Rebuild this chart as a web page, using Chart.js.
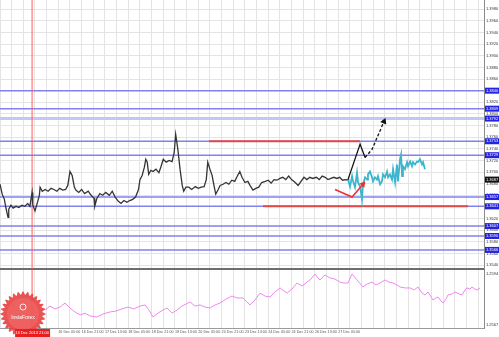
<!DOCTYPE html>
<html lang="en">
<head>
<meta charset="UTF-8">
<title>EUR/USD H1</title>
<script src="https://cdn.jsdelivr.net/npm/chart.js@4.4.0/dist/chart.umd.min.js"></script>
<style>
  body { margin: 0; background: #fff; }
  .wrap { position: relative; width: 499px; height: 337px; overflow: hidden; background: #fff; }
  #priceChart { position: absolute; left: 0; top: 0; }
  #oscChart { position: absolute; left: 0; top: 270px; }
</style>
</head>
<body>
<div class="wrap">
  <canvas id="priceChart" width="499" height="270"></canvas>
  <canvas id="oscChart" width="499" height="67"></canvas>
</div>
<script>
// x is in H1 bars, y in price
const pricePoints = [[0,1.3679],[1.5,1.3662],[3,1.3653],[4,1.3639],[5.5,1.3622],[6,1.3636],[7.5,1.3643],[9,1.3638],[11,1.3641],[13,1.3639],[15,1.3643],[17,1.3641],[19,1.3646],[20.5,1.3641],[22,1.3665],[22.5,1.3643],[24,1.3633],[25.5,1.3646],[27,1.3660],[27.5,1.3674],[29,1.3667],[31,1.3670],[33,1.3667],[35,1.3672],[37,1.3670],[39,1.3667],[41,1.3672],[43,1.3669],[45,1.3670],[46.5,1.3677],[48,1.3701],[49.5,1.3694],[51,1.3674],[52,1.3669],[54,1.3665],[56,1.3670],[58,1.3663],[60.5,1.3667],[62.5,1.3660],[64.5,1.3655],[65,1.3641],[66.5,1.3655],[68.5,1.3663],[70.5,1.3660],[72.5,1.3665],[75,1.3660],[77,1.3667],[79,1.3657],[81,1.3650],[83,1.3646],[85,1.3651],[87,1.3648],[89,1.3651],[91,1.3653],[93,1.3657],[95,1.3670],[96,1.3687],[97.5,1.3694],[99,1.3708],[100,1.3722],[101,1.3717],[102,1.3696],[103.5,1.3703],[105,1.3701],[107,1.3705],[109,1.3699],[110.5,1.3710],[112,1.3722],[114,1.3717],[116,1.3720],[118,1.3718],[119.5,1.3734],[120.5,1.3765],[122,1.3739],[123.5,1.3705],[125,1.3677],[126,1.3667],[127.5,1.3674],[129.5,1.3674],[131.5,1.3670],[134,1.3675],[136,1.3672],[138,1.3674],[140,1.3675],[141.5,1.3687],[142.5,1.3717],[144,1.3705],[145.5,1.3694],[147,1.3674],[148,1.3662],[149.5,1.3669],[151,1.3677],[153,1.3679],[155,1.3682],[157,1.3679],[159,1.3686],[161,1.3684],[163,1.3694],[164.5,1.3701],[166,1.3691],[168,1.3682],[170,1.3684],[171.5,1.3677],[173.5,1.3669],[175.5,1.3672],[177.5,1.3674],[179.5,1.3682],[182,1.3684],[184,1.3686],[186,1.3681],[188,1.3687],[190,1.3686],[192,1.3689],[194,1.3691],[196,1.3687],[198,1.3693],[200,1.3687],[202.5,1.3682],[204.5,1.3677],[206.5,1.3684],[208.5,1.3691],[210.5,1.3687],[212.5,1.3691],[214.5,1.3689],[217,1.3691],[219,1.3687],[221,1.3693],[223,1.3691],[225,1.3687],[227,1.3689],[229,1.3691],[231,1.3689],[233,1.3691],[235,1.3686],[237,1.3687],[239.5,1.3686]];

const forecastPoints = [[238.7,1.3687],[240.1,1.3675],[241.5,1.3693],[242.2,1.3684],[243.5,1.3674],[244.9,1.3699],[245.6,1.3682],[247,1.3675],[248.3,1.3653],[249,1.3679],[250.4,1.3691],[251.8,1.3687],[252.4,1.3696],[253.8,1.3701],[255.2,1.3691],[255.9,1.3684],[257.2,1.3691],[258.6,1.3687],[259.3,1.3693],[260.7,1.3679],[262,1.3684],[262.7,1.3696],[264.1,1.3691],[265.5,1.3701],[266.2,1.3691],[267.5,1.3696],[268.9,1.3687],[269.6,1.3705],[271,1.3682],[272.3,1.3713],[273,1.3684],[274.4,1.3722],[275.1,1.3730],[275.8,1.3693],[276.4,1.3710],[277.8,1.3705],[279.2,1.3717],[279.9,1.3710],[281.3,1.3718],[282.6,1.3710],[283.3,1.3717],[284.7,1.3713],[286,1.3718],[286.7,1.3717],[288.1,1.3722],[289.5,1.3713],[290.2,1.3717],[291.5,1.3705]];

const upArrowSolid = [[238.7,1.3687],[247,1.3748],[250.4,1.3725]];
const upArrowDashed = [[250.4,1.3725],[255.2,1.3739],[263.4,1.3787]];
const downArrow = [[229.8,1.3670],[241.5,1.3657],[249,1.3679]];

const levelPrices = [1.3840, 1.3809, 1.3792, 1.3753, 1.3729, 1.3657, 1.3641, 1.3607, 1.3590, 1.3566];
const resistanceSeg = [[143.3,1.3753],[246.9,1.3753]];
const supportSeg = [[180.4,1.3641],[321,1.3641]];
const lastPrice = 1.3687;
const cursorBar = 22;

const oscPoints = [[28,1.25765],[30.9,1.25749],[34.3,1.25770],[37.7,1.25755],[41.2,1.25765],[44.6,1.25786],[48,1.25760],[51.4,1.25739],[54.9,1.25723],[58.3,1.25733],[61.7,1.25718],[66.5,1.25712],[70.7,1.25728],[75.5,1.25739],[79.6,1.25744],[83.7,1.25755],[87.8,1.25765],[91.9,1.25755],[96,1.25770],[99.5,1.25776],[102.2,1.25749],[105,1.25712],[108.4,1.25733],[111.8,1.25749],[114.6,1.25760],[118,1.25733],[121.4,1.25749],[124.8,1.25770],[127.6,1.25781],[130.3,1.25792],[133.8,1.25770],[137.2,1.25776],[140.6,1.25765],[144.1,1.25760],[147.5,1.25776],[150.9,1.25786],[155,1.25807],[159.1,1.25823],[162.6,1.25813],[166.7,1.25813],[169.4,1.25792],[171.5,1.25776],[174.9,1.25802],[178.4,1.25839],[181.8,1.25823],[185.2,1.25818],[188.6,1.25845],[192.1,1.25866],[194.8,1.25850],[196.9,1.25839],[200.3,1.25860],[203.7,1.25892],[207.2,1.25876],[210.6,1.25897],[213.3,1.25913],[216.1,1.25940],[218.1,1.25919],[219.5,1.25908],[222.9,1.25935],[226.4,1.25919],[229.8,1.25913],[233.2,1.25897],[236,1.25892],[238.7,1.25892],[241.5,1.25940],[244.9,1.25908],[249,1.25871],[251.8,1.25887],[255.2,1.25897],[257.9,1.25882],[260.7,1.25892],[264.1,1.25908],[266.9,1.25897],[269.6,1.25892],[272.3,1.25882],[274.4,1.25871],[277.8,1.25866],[281.3,1.25866],[284,1.25855],[286.7,1.25871],[289.5,1.25839],[291.5,1.25829],[293.6,1.25845],[295.7,1.25818],[297,1.25802],[299.1,1.25813],[300.5,1.25818],[302.5,1.25797],[303.9,1.25786],[305.9,1.25807],[307.3,1.25829],[310.1,1.25834],[312.1,1.25845],[314.9,1.25834],[316.9,1.25829],[319,1.25855],[320.3,1.25866],[322.4,1.25860],[323.8,1.25871],[325.8,1.25860],[327.2,1.25855],[329.3,1.25866]];

const priceTicks = [1.3980,1.3960,1.3940,1.3920,1.3900,1.3880,1.3860,1.3840,1.3820,1.3800,1.3780,1.3760,1.3740,1.3720,1.3700,1.3680,1.3660,1.3640,1.3620,1.3600,1.3580,1.3560,1.3540];
const oscTicks = [1.2594, 1.2567];
const timeBars = [40, 56, 72, 88, 104, 120, 136, 152, 168, 184, 200, 216, 232];
const timeLabels = ['16 Dec 05:00','16 Dec 21:00','17 Dec 13:00','18 Dec 05:00','18 Dec 21:00','19 Dec 13:00','20 Dec 05:00','20 Dec 21:00','23 Dec 13:00','24 Dec 05:00','24 Dec 21:00','26 Dec 13:00','27 Dec 05:00'];
const cursorLabel = '13 Dec 2013 21:00';

const X_MAX = 332;
const P_MAX = 1.3996, P_MIN = 1.35332;
const O_MAX = 1.25961, O_MIN = 1.25654;
const GRID = '#e4e4e4';
const FONT = 'Liberation Sans';

const gridBars = [];
for (let b = 0; b <= X_MAX; b += 8) gridBars.push(b);

const pts = arr => arr.map(p => ({ x: p[0], y: p[1] }));

function xAxis(withLabels) {
  return {
    type: 'linear', min: 0, max: X_MAX,
    afterBuildTicks: s => { s.ticks = gridBars.map(v => ({ value: v })); },
    afterFit: s => { s.paddingLeft = 0; s.paddingRight = 0; s.height = withLabels ? 9 : 1; },
    grid: { color: GRID, drawTicks: false },
    border: withLabels ? { color: '#9a9a9a', width: 1 } : { color: '#6e6e6e', width: 2 },
    ticks: {
      display: withLabels, autoSkip: false, maxRotation: 0, align: 'start', padding: 2,
      font: { size: 3.7, family: FONT }, color: '#555',
      callback: v => { const i = timeBars.indexOf(v); return i < 0 ? '' : timeLabels[i]; }
    }
  };
}

function line(data, color, width, extra) {
  return Object.assign({ data: pts(data), borderColor: color, backgroundColor: color, borderWidth: width,
    pointRadius: 0, tension: 0, fill: false }, extra || {});
}

// level lines, light one drawn thicker
const levelSets = levelPrices.map((p, i) => line([[0, p], [X_MAX, p]],
  i === 2 ? '#c6c6f6' : '#8282ee', i === 2 ? 3 : 1.5));

const tagPlugin = {
  id: 'tags',
  afterDraw(chart) {
    const ctx = chart.ctx, ys = chart.scales.y, x0 = chart.chartArea.right;
    ctx.save();
    ctx.font = '4px "' + FONT + '"';
    ctx.textBaseline = 'middle';
    levelPrices.forEach(p => {
      const py = ys.getPixelForValue(p);
      ctx.fillStyle = '#2424e0';
      ctx.fillRect(x0 + 1, py - 3, 14, 6);
      ctx.fillStyle = '#fff';
      ctx.fillText(p.toFixed(4), x0 + 2, py);
    });
    const cy = ys.getPixelForValue(lastPrice);
    ctx.fillStyle = '#111';
    ctx.fillRect(x0 + 1, cy - 3, 14, 6);
    ctx.fillStyle = '#fff';
    ctx.fillText(lastPrice.toFixed(4), x0 + 2, cy);
    ctx.restore();
  }
};

const common = {
  responsive: false, animation: false, events: [],
  layout: { padding: 0, autoPadding: false },
  plugins: { legend: { display: false }, tooltip: { enabled: false } }
};

new Chart(document.getElementById('priceChart'), {
  type: 'line',
  data: {
    datasets: [
      line(upArrowDashed, '#111', 1.3, { borderDash: [3, 2], pointRadius: [0, 0, 2.5], pointStyle: 'triangle', pointRotation: 23 }),
      line(upArrowSolid, '#111', 1.3),
      line(downArrow, '#e83232', 1.5, { pointRadius: [0, 0, 2.2], pointStyle: 'triangle', pointRotation: 40 }),
      line(forecastPoints, '#3cb6cf', 1.8),
      line(pricePoints, '#353535', 1.3),
      line([[cursorBar, P_MIN], [cursorBar, P_MAX]], '#ff5a5a', 1),
      line(resistanceSeg, '#e24a4a', 2),
      line(supportSeg, '#e24a4a', 2),
      ...levelSets
    ]
  },
  options: Object.assign({}, common, {
    scales: {
      x: xAxis(false),
      y: {
        position: 'right', min: P_MIN, max: P_MAX,
        afterBuildTicks: s => { s.ticks = priceTicks.map(v => ({ value: v })); },
        afterFit: s => { s.width = 15; s.paddingTop = 0; s.paddingBottom = 0; },
        grid: { color: GRID, drawTicks: false },
        border: { color: '#8a8a8a' },
        ticks: { padding: 2, font: { size: 4, family: FONT }, color: '#333', callback: v => v.toFixed(4) }
      }
    }
  }),
  plugins: [tagPlugin]
});

const logoPlugin = {
  id: 'logo',
  afterDraw(chart) {
    const ctx = chart.ctx;
    const cx = 23, cy = 44, r = 21;
    ctx.save();
    ctx.beginPath();
    for (let i = 0; i <= 360; i++) {
      const a = i * Math.PI / 180;
      const rr = r + 1.6 * Math.cos(a * 28);
      const px = cx + rr * Math.cos(a), py = cy + rr * Math.sin(a);
      if (i === 0) ctx.moveTo(px, py); else ctx.lineTo(px, py);
    }
    ctx.closePath();
    ctx.fillStyle = 'rgba(232, 64, 64, 0.9)';
    ctx.fill();
    ctx.beginPath();
    ctx.arc(cx, cy, r - 5, 0, Math.PI * 2);
    ctx.fillStyle = 'rgba(240, 110, 110, 0.55)';
    ctx.fill();
    ctx.beginPath();
    ctx.arc(cx, cy - 7, 3, 0, Math.PI * 2);
    ctx.strokeStyle = 'rgba(255,255,255,0.85)';
    ctx.lineWidth = 1;
    ctx.stroke();
    ctx.fillStyle = '#fff';
    ctx.font = '5px "' + FONT + '"';
    ctx.textAlign = 'center';
    ctx.textBaseline = 'middle';
    ctx.fillText('InstaForex', cx, cy + 4);
    // cursor time label on the axis
    const xs = chart.scales.x, lx = xs.getPixelForValue(cursorBar);
    ctx.fillStyle = '#ea1e1e';
    ctx.fillRect(lx - 17, 59, 35, 8);
    ctx.fillStyle = '#fff';
    ctx.font = '4px "' + FONT + '"';
    ctx.fillText(cursorLabel, lx, 63);
    ctx.restore();
  }
};

new Chart(document.getElementById('oscChart'), {
  type: 'line',
  data: {
    datasets: [
      line(oscPoints, '#ee88ee', 1),
      line([[cursorBar, O_MIN], [cursorBar, O_MAX]], '#ff5a5a', 1)
    ]
  },
  options: Object.assign({}, common, {
    scales: {
      x: xAxis(true),
      y: {
        position: 'right', min: O_MIN, max: O_MAX,
        afterBuildTicks: s => { s.ticks = oscTicks.map(v => ({ value: v })); },
        afterFit: s => { s.width = 15; s.paddingTop = 0; s.paddingBottom = 0; },
        grid: { display: false, drawTicks: false },
        border: { color: '#8a8a8a' },
        ticks: { padding: 2, font: { size: 4, family: FONT }, color: '#333', callback: v => v.toFixed(4) }
      }
    }
  }),
  plugins: [logoPlugin]
});
</script>
</body>
</html>
